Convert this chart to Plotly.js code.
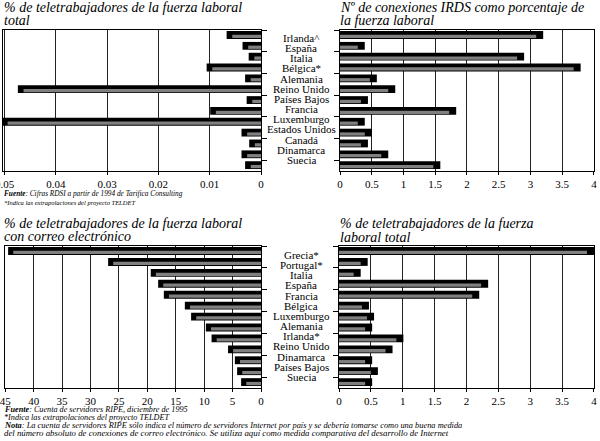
<!DOCTYPE html>
<html><head><meta charset="utf-8">
<script src="https://cdn.plot.ly/plotly-3.0.1.min.js"></script>
<style>html,body{margin:0;padding:0;background:#fff}#c{width:600px;height:441px}</style>
</head><body><div id="c"></div>
<script>
// ---- data ----
const catsTop = ["Irlanda^","España","Italia","Bélgica*","Alemania","Reino Unido","Países Bajos","Francia","Luxemburgo","Estados Unidos","Canadá","Dinamarca","Suecia"];
const teleTotalTop = [0.0056,0.0025,0.0013,0.0095,0.0020,0.0463,0.0017,0.0088,0.0494,0.0027,0.0012,0.0027,0.0020];
const irdsPct = [3.09,0.28,2.79,3.68,0.47,0.76,0.33,1.72,0.28,0.39,0.33,0.65,1.47];
const catsBot = ["Grecia*","Portugal*","Italia","España","Francia","Bélgica","Luxemburgo","Alemania","Irlanda*","Reino Unido","Dinamarca","Países Bajos","Suecia"];
const teleEmail = [43.6,26.0,18.5,17.2,16.2,12.5,11.4,8.8,7.8,4.9,3.7,3.3,2.6];
const teleTotalBot = [3.89,0.34,0.23,2.23,2.09,0.36,0.44,0.41,0.90,0.73,0.41,0.50,0.41];
const ticksTopLeft = [0.05,0.04,0.03,0.02,0.01,0];
const ticksTopLeftText = ["0.05","0.04","0.03","0.02","0.01","0"];
const ticksRight = [0,0.5,1,1.5,2,2.5,3,3.5,4];
const ticksRightText = ["0","0.5","1","1.5","2","2.5","3","3.5","4"];
const ticksBotLeft = [45,40,35,30,25,20,15,10,5,0];
const ticksBotLeftText = ["45","40","35","30","25","20","15","10","5","0"];

const SERIF = "Liberation Serif, DejaVu Serif, serif";
const W = 600, H = 441;
const px = v => v / W, py = v => 1 - v / H;

function pair(cats, vals, depth, xa, ya) {
  return [
    {type:"bar", orientation:"h", y:cats, x:vals.map(v => v + depth), xaxis:xa, yaxis:ya,
     marker:{color:"#000"}, width:0.72, offset:-0.4, hoverinfo:"skip"},
    {type:"bar", orientation:"h", y:cats, x:vals, xaxis:xa, yaxis:ya,
     marker:{color:"#808080", line:{width:0}}, width:0.3, offset:-0.06}
  ];
}
const data = [
  ...pair(catsTop, teleTotalTop, 0.0011, "x", "y"),
  ...pair(catsTop, irdsPct, 0.11, "x2", "y2"),
  ...pair(catsBot, teleEmail, 0.9, "x3", "y3"),
  ...pair(catsBot, teleTotalBot, 0.11, "x4", "y4")
];

const tickFont = {family:SERIF, size:11, color:"#000"};
function xAx(dom, range, tv, tt, anchor) {
  return {domain:dom, range:range, anchor:anchor, tickvals:tv, ticktext:tt, tickfont:tickFont,
    ticklabeloverflow:"allow",
    showgrid:true, gridcolor:"#222", gridwidth:1, zeroline:false, showline:true, mirror:true,
    linecolor:"#000", linewidth:1, ticks:"outside", ticklen:3, tickcolor:"#000", fixedrange:true};
}
function yAx(dom, cats, side, anchor) {
  return {domain:dom, type:"category", categoryorder:"array", categoryarray:cats, range:[12.5,-0.5],
    anchor:anchor, side:side, showticklabels:false, ticks:"outside", ticklen:5, tickcolor:"#000",
    tickson:"boundaries", showgrid:false, showline:true, mirror:true, linecolor:"#000", linewidth:1, fixedrange:true};
}
const annotations = [];
function lbl(text, x, y, size, xanchor, italic) {
  annotations.push({text:text, x:x, y:y, xref:"paper", yref:"paper", xanchor:xanchor||"left", yanchor:"middle",
    showarrow:false, font:{family:SERIF, size:size, color:"#000", style: italic ? "italic" : "normal"}});
}
// titles
lbl("% de teletrabajadores de la fuerza laboral", px(2), py(8), 14, "left", true);
lbl("total", px(2), py(20), 14, "left", true);
lbl("Nº de conexiones IRDS como porcentaje de", px(338), py(8), 14, "left", true);
lbl("la fuerza laboral", px(338), py(20), 14, "left", true);
lbl("% de teletrabajadores de la fuerza laboral", px(2), py(223), 14, "left", true);
lbl("con correo electrónico", px(2), py(236), 14, "left", true);
lbl("% de teletrabajadores de la fuerza", px(338), py(223), 14, "left", true);
lbl("laboral total", px(338), py(237), 14, "left", true);
// category labels (shared, centred between panels)
catsTop.forEach((c, i) => lbl(c, px(301), py(38 + i * 10.15), 11, "center"));
catsBot.forEach((c, i) => lbl(c, px(301), py(255 + i * 10.15), 11, "center"));
// notes
lbl("<b>Fuente</b>: Cifras RDSI a partir de 1994 de Tarifica Consulting", px(2), py(193), 7.3, "left", true);
lbl("*Indica las extrapolaciones del proyecto TELDET", px(2), py(202), 6.5, "left", true);
lbl("<b>Fuente</b>: Cuenta de servidores RIPE, diciembre de 1995", px(2), py(409), 8.2, "left", true);
lbl("*Indica las extrapolaciones del proyecto TELDET", px(2), py(417), 8.2, "left", true);
lbl("<b>Nota</b>: La cuenta de servidores RIPE sólo indica el número de servidores Internet por país y se debería tomarse como una buena medida", px(2), py(425), 8.4, "left", true);
lbl("del número absoluto de conexiones de correo electrónico. Se utiliza aquí como medida comparativa del desarrollo de Internet", px(2), py(433), 8.8, "left", true);

const layout = {
  width:W, height:H, margin:{l:0,r:0,t:0,b:0}, paper_bgcolor:"#fff", plot_bgcolor:"#fff",
  showlegend:false, barmode:"overlay", font:{family:SERIF, color:"#000"},
  xaxis: xAx([px(3), px(261)], [0.0503, 0], ticksTopLeft, ticksTopLeftText, "y"),
  yaxis: yAx([py(171), py(30)], catsTop, "right", "x"),
  xaxis2: xAx([px(340), px(594)], [0, 4.0004], ticksRight, ticksRightText, "y2"),
  yaxis2: yAx([py(171), py(30)], catsTop, "left", "x2"),
  xaxis3: xAx([px(5), px(261)], [45.05, 0], ticksBotLeft, ticksBotLeftText, "y3"),
  yaxis3: yAx([py(388), py(246)], catsBot, "right", "x3"),
  xaxis4: xAx([px(339), px(594)], [0, 4.0004], ticksRight, ticksRightText, "y4"),
  yaxis4: yAx([py(388), py(246)], catsBot, "left", "x4"),
  annotations: annotations
};
Plotly.newPlot("c", data, layout, {displayModeBar:false, staticPlot:true});
</script></body></html>
